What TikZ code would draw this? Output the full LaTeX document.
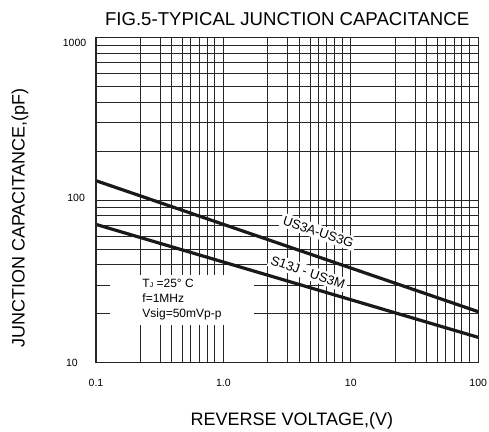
\documentclass[tikz,border=0pt]{standalone}
\usepackage{fontspec}
\setmainfont{Liberation Sans}
\tikzset{
  gl/.style={line width=0.9pt, black!85},
  crv/.style={line width=3.2pt, black!90},
  frm/.style={line width=1.4pt, black!85},
  lbl/.style={font=\fontsize{10.5}{12}\selectfont, inner sep=0pt},
  big/.style={font=\fontsize{18}{21}\selectfont, inner sep=0pt, anchor=base},
  tag/.style={font=\fontsize{13}{15}\selectfont, fill=white, inner sep=2.5pt, rotate=-19}
}
\begin{document}
\begin{tikzpicture}[x=127.4pt, y=162.5pt]
    \useasboundingbox (-96pt,-68.3pt) rectangle (393pt,362.7pt);

    % Horizontal grid (log scale, 10 to 1000 pF)
    \foreach \d in {0,1}{
      \foreach \m in {2,...,9}
        \draw[gl] (0,{\d+log10(\m)}) -- (3,{\d+log10(\m)});
    }
    \draw[gl] (0,1) -- (3,1);

    % Vertical grid (0.1 to 100 V)
    \foreach \d in {0,1,2}{
      \foreach \f in {0.347,0.505,0.595,0.68,0.745,0.81,0.872,0.933}
        \draw[gl] (\d+\f,0) -- (\d+\f,2);
    }
    \draw[gl] (1,0) -- (1,2);
    \draw[gl] (2,0) -- (2,2);

    % Test conditions (white box over the grid)
    \node[fill=white, align=left, minimum width=144pt, minimum height=50pt, inner sep=0pt,
          font=\fontsize{12}{15}\selectfont] (cond) at (0.675,0.386)
          {T{\fontsize{7}{8}\selectfont J} =25° C\\f=1MHz\\Vsig=50mVp-p};

    % Curve labels
    \node[tag] (ga) at (1.745,0.805) {US3A-US3G};
    \node[tag] (gm) at (1.664,0.555) {S13J - US3M};

    % Capacitance curves
    \coordinate (a0) at (0,1.12);
    \coordinate (a1) at (3,0.314);
    \coordinate (m0) at (0,0.851);
    \coordinate (m1) at (3,0.156);
    \draw[crv] (a0) -- (a1);
    \draw[crv] (m0) -- (m1);

    % Frame
    \draw[frm] (0,0) rectangle (3,2);

    % Axis numbers
    \foreach \i/\t in {0/0.1,1/1.0,2/10,3/100}
      \node[lbl, anchor=base] (vx\i) at (\i,-0.147) {\t};
    \node[lbl, anchor=base east] (c3) at (-0.075,1.945) {1000};
    \node[lbl, anchor=base east] (c2) at (-0.086,0.989) {100};
    \node[lbl, anchor=base east] (c1) at (-0.141,-0.024) {10};

    % Titles
    \node[big, font=\fontsize{18.6}{21}\selectfont] (title) at (1.5,2.073) {FIG.5-TYPICAL JUNCTION CAPACITANCE};
    \node[big] (xlab) at (1.537,-0.386) {REVERSE VOLTAGE,(V)};
    \node[big, rotate=90] (ylab) at (-0.56,0.89) {JUNCTION CAPACITANCE,(pF)};
\end{tikzpicture}
\end{document}
